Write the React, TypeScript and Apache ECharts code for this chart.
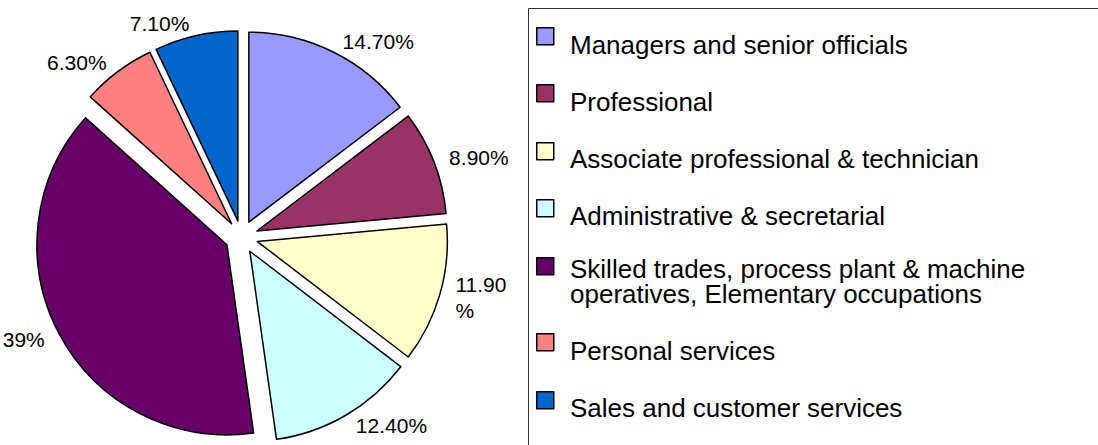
import React, { useEffect, useRef } from "react";
import * as echarts from "echarts";

const categories = [
  "Managers and senior officials",
  "Professional",
  "Associate professional & technician",
  "Administrative & secretarial",
  "Skilled trades, process plant & machine operatives, Elementary occupations",
  "Personal services",
  "Sales and customer services",
];
const shares = [14.7, 8.9, 11.9, 12.4, 39, 6.3, 7.1];
const colors = ["#9999FF", "#993366", "#FFFFCC", "#CCFFFF", "#660066", "#FF8080", "#0066CC"];

const FONT = "'Liberation Sans', Arial, Helvetica, sans-serif";

function fmtShare(v: number): string {
  return (Number.isInteger(v) ? String(v) : v.toFixed(2)) + "%";
}

export default function App() {
  const ref = useRef<HTMLDivElement>(null);
  useEffect(() => {
    const chart = echarts.init(ref.current!, null, { renderer: "svg" });
    // legend layout (pixels): icon tops and first-line text centres
    const iconTops = [27, 84, 142, 199, 257, 333, 391];
    const textCenters = [45, 101.5, 158.5, 216, 268, 350.5, 407.5];
    const iconLegends = categories.map((name, i) => ({
      data: [name],
      orient: "vertical",
      left: 536,
      top: iconTops[i],
      padding: 0,
      itemWidth: 17,
      itemHeight: 17,
      icon: "rect",
      itemStyle: { borderColor: "#000", borderWidth: 1.5 },
      selectedMode: false,
      formatter: () => "",
      textStyle: { fontSize: 8 },
    }));
    const textLegends = categories.map((name, i) => {
      const multi = i === 4;
      const L = multi ? 25 : 26;
      const h = multi ? 2 * L : L;
      return {
        data: [name],
        orient: "vertical",
        left: 548,
        top: textCenters[i] - L / 2,
        padding: 0,
        itemWidth: 17,
        itemHeight: h,
        icon: "rect",
        itemStyle: { color: "rgba(0,0,0,0)", borderWidth: 0, opacity: 0 },
        selectedMode: false,
        textStyle: {
          fontFamily: FONT,
          fontSize: 26,
          color: "#000",
          lineHeight: L,
          ...(multi ? { width: 500, overflow: "break" } : {}),
        },
      };
    });

    chart.setOption({
      animation: false,
      backgroundColor: "#fff",
      graphic: [
        {
          type: "rect",
          shape: { x: 528.5, y: 8.5, width: 700, height: 600 },
          style: { fill: "none", stroke: "#333", lineWidth: 1 },
          silent: true,
        },
      ],
      legend: [...iconLegends, ...textLegends],
      series: [
        {
          type: "pie",
          center: [241.5, 237],
          radius: 190,
          startAngle: 90,
          clockwise: true,
          selectedMode: "multiple",
          selectedOffset: 16.5,
          avoidLabelOverlap: false,
          itemStyle: { borderColor: "#000", borderWidth: 1.5 },
          label: {
            show: true,
            position: "outside",
            formatter: (p: any) => fmtShare(p.value),
            fontFamily: FONT,
            fontSize: 21,
            lineHeight: 26,
            color: "#000",
            distanceToLabelLine: 4,
          },
          labelLine: { show: false, length: 12, length2: 0 },
          emphasis: { disabled: true },
          data: categories.map((name, i) => ({
            name,
            value: shares[i],
            selected: true,
            itemStyle: { color: colors[i] },
            ...(i === 2 ? { label: { width: 64, overflow: "breakAll" } } : {}),
          })),
        },
      ],
    });
    return () => chart.dispose();
  }, []);
  return (
    <div
      ref={ref}
      style={{ position: "fixed", left: 0, top: 0, width: 1098, height: 445 }}
    />
  );
}
